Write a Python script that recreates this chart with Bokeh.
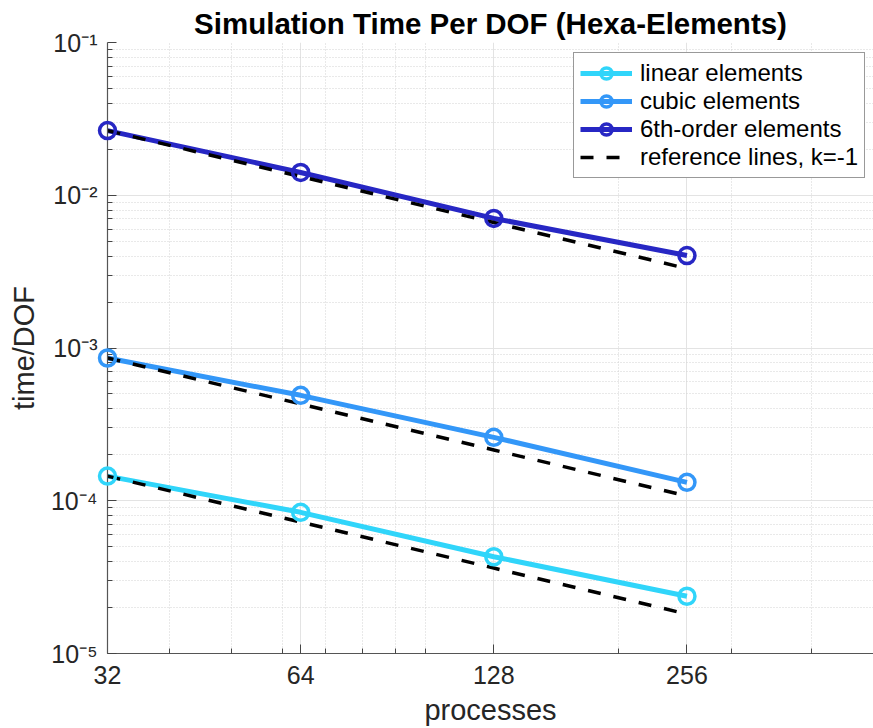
from bokeh.plotting import figure
from bokeh.models import (FixedTicker, CustomJSTickFormatter, Legend, LegendItem,
                          Range1d)
from bokeh.embed import file_html
from bokeh.resources import INLINE

# Simulation time per degree of freedom, hexahedral elements
processes = [32, 64, 128, 256]
linear_time = [1.45e-4, 8.4e-5, 4.3e-5, 2.37e-5]
cubic_time = [8.6e-4, 4.9e-4, 2.6e-4, 1.32e-4]
sixth_time = [2.65e-2, 1.41e-2, 7.05e-3, 4.03e-3]

series_names = ["linear elements", "cubic elements", "6th-order elements"]
series_colors = ["#30D5FA", "#3397F8", "#2727C4"]
reference_name = "reference lines, k=-1"
reference_slope = -1

x_major = [32, 64, 128, 256]
x_minor = [40, 50, 60, 70, 80, 90, 100, 200, 300, 400, 500]
y_major = [1e-5, 1e-4, 1e-3, 1e-2, 1e-1]

FONT = "Liberation Sans"
INK = "#262626"

p = figure(width=873, height=728, x_axis_type="log", y_axis_type="log",
           x_range=Range1d(32, 500), y_range=Range1d(1e-5, 1e-1),
           output_backend="svg", toolbar_location=None,
           min_border_left=107, min_border_right=0,
           min_border_top=42, min_border_bottom=75)
p.outline_line_color = None
p.background_fill_color = "white"

p.title.text = "Simulation Time Per DOF (Hexa-Elements)"
p.title.align = "center"
p.title.text_font = FONT
p.title.text_font_size = "29.5px"
p.title.text_font_style = "bold"
p.title.text_color = "black"
p.title.offset = 0
p.title.standoff = 5

# ticks
y_minor = [m * d for d in y_major[:-1] for m in range(2, 10)]
p.xaxis.ticker = FixedTicker(ticks=x_major, minor_ticks=x_minor)
p.yaxis.ticker = FixedTicker(ticks=y_major, minor_ticks=y_minor)
p.xaxis.major_label_overrides = {v: str(v) for v in x_major}
p.yaxis.formatter = CustomJSTickFormatter(code="""
    const sup = {"-": "\u207b", "0": "\u2070", "1": "\u00b9", "2": "\u00b2", "3": "\u00b3",
                 "4": "\u2074", "5": "\u2075", "6": "\u2076", "7": "\u2077", "8": "\u2078", "9": "\u2079"};
    const e = Math.round(Math.log10(tick));
    return "10" + String(e).split("").map(c => sup[c]).join("");
""")

for ax in (p.xaxis[0], p.yaxis[0]):
    ax.axis_line_color = "#555555"
    ax.axis_line_width = 1.2
    ax.major_tick_in = 9
    ax.major_tick_out = 0
    ax.minor_tick_in = 5
    ax.minor_tick_out = 0
    ax.major_tick_line_color = "#444444"
    ax.minor_tick_line_color = "#444444"
    ax.major_label_text_font = FONT
    ax.major_label_text_font_size = "25px"
    ax.major_label_text_color = INK
    ax.axis_label_text_font = FONT
    ax.axis_label_text_font_size = "29px"
    ax.axis_label_text_font_style = "normal"
    ax.axis_label_text_color = INK

p.xaxis.axis_label = "processes"
p.yaxis.axis_label = "time/DOF"
p.xaxis.major_label_standoff = 12
p.yaxis.major_label_standoff = 10
p.xaxis.axis_label_standoff = 7
p.yaxis.axis_label_standoff = 8

for g in p.grid:
    g.grid_line_color = "#e3e3e3"
    g.grid_line_width = 1
    g.minor_grid_line_color = "#d2d2d2"
    g.minor_grid_line_dash = "1 2"
    g.minor_grid_line_width = 1

items = []
ref_renderers = []
for name, color, ys in zip(series_names, series_colors,
                           [linear_time, cubic_time, sixth_time]):
    ln = p.line(processes, ys, line_color=color, line_width=5)
    mk = p.scatter(processes, ys, marker="circle", size=16, fill_color=None,
                   line_color=color, line_width=3.5, level="overlay")
    items.append(LegendItem(label=name, renderers=[ln, mk]))

for ys in [linear_time, cubic_time, sixth_time]:
    ref = [ys[0] * (x / processes[0]) ** reference_slope for x in processes]
    ref_renderers.append(p.line(processes, ref, line_color="black", line_width=3.5,
                                line_dash="13 13"))
items.append(LegendItem(label=reference_name, renderers=[ref_renderers[0]]))

legend = Legend(items=items, location=(466, 475))
legend.label_text_font = FONT
legend.label_text_font_size = "24px"
legend.label_text_color = "black"
legend.glyph_width = 52
legend.glyph_height = 28
legend.label_height = 28
legend.spacing = 0
legend.padding = 6
legend.margin = 0
legend.label_standoff = 8
legend.border_line_color = "#333333"
legend.border_line_width = 1
legend.background_fill_color = "white"
legend.background_fill_alpha = 1
p.add_layout(legend)

open("out.html", "w").write(file_html(p, INLINE))
